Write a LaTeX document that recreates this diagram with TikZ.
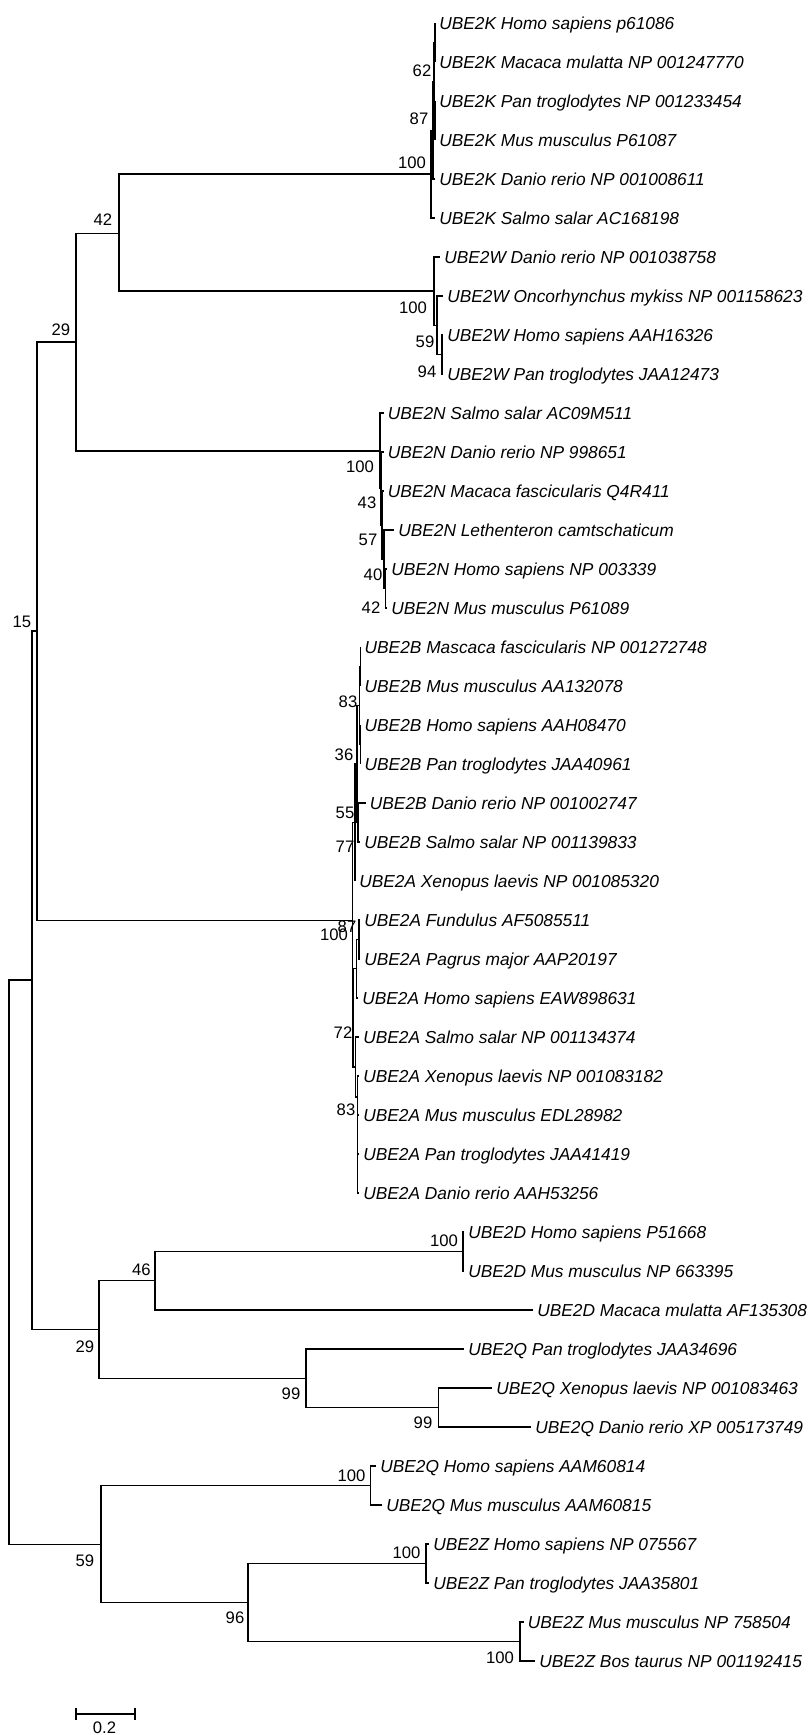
\documentclass[tikz,border=0pt]{standalone}
\usepackage{fontspec}
\setmainfont{Liberation Sans}
\begin{document}
\begin{tikzpicture}[x=0.75pt,y=-0.75pt,
  br/.style={line width=0.85pt},
  leaf/.style={anchor=west, inner xsep=3pt, inner ysep=0pt, text height=9.4pt, text depth=0pt, font=\fontsize{13}{15}\selectfont\itshape},
  bs/.style={inner sep=0pt, font=\fontsize{12.5}{14}\selectfont}]
\fill[white] (0,0) rectangle (807,1735);
\useasboundingbox (0,0) rectangle (807,1735);
% ---------- leaves ----------
\node[leaf] (l1) at (435,23) {UBE2K Homo sapiens p61086};
\node[leaf] (l2) at (435,62) {UBE2K Macaca mulatta NP 001247770};
\node[leaf] (l3) at (435,101) {UBE2K Pan troglodytes NP 001233454};
\node[leaf] (l4) at (435,140) {UBE2K Mus musculus P61087};
\node[leaf] (l5) at (435,179) {UBE2K Danio rerio NP 001008611};
\node[leaf] (l6) at (435,218) {UBE2K Salmo salar AC168198};
\node[leaf] (l7) at (440,257) {UBE2W Danio rerio NP 001038758};
\node[leaf] (l8) at (443,296) {UBE2W Oncorhynchus mykiss NP 001158623};
\node[leaf] (l9) at (443,335) {UBE2W Homo sapiens AAH16326};
\node[leaf] (l10) at (443,374) {UBE2W Pan troglodytes JAA12473};
\node[leaf] (l11) at (383.6,413) {UBE2N Salmo salar AC09M511};
\node[leaf] (l12) at (383.6,452) {UBE2N Danio rerio NP 998651};
\node[leaf] (l13) at (383.6,491) {UBE2N Macaca fascicularis Q4R411};
\node[leaf] (l14) at (394,530) {UBE2N Lethenteron camtschaticum};
\node[leaf] (l15) at (387,569) {UBE2N Homo sapiens NP 003339};
\node[leaf] (l16) at (387,608) {UBE2N Mus musculus P61089};
\node[leaf] (l17) at (360.4,647) {UBE2B Mascaca fascicularis NP 001272748};
\node[leaf] (l18) at (360.4,686) {UBE2B Mus musculus AA132078};
\node[leaf] (l19) at (360.4,725) {UBE2B Homo sapiens AAH08470};
\node[leaf] (l20) at (360.4,764) {UBE2B Pan troglodytes JAA40961};
\node[leaf] (l21) at (365.6,803) {UBE2B Danio rerio NP 001002747};
\node[leaf] (l22) at (360,842) {UBE2B Salmo salar NP 001139833};
\node[leaf] (l23) at (355,881) {UBE2A Xenopus laevis NP 001085320};
\node[leaf] (l24) at (360,920) {UBE2A Fundulus AF5085511};
\node[leaf] (l25) at (360,959) {UBE2A Pagrus major AAP20197};
\node[leaf] (l26) at (358,998) {UBE2A Homo sapiens EAW898631};
\node[leaf] (l27) at (359,1037) {UBE2A Salmo salar NP 001134374};
\node[leaf] (l28) at (359,1076) {UBE2A Xenopus laevis NP 001083182};
\node[leaf] (l29) at (359,1115) {UBE2A Mus musculus EDL28982};
\node[leaf] (l30) at (359,1154) {UBE2A Pan troglodytes JAA41419};
\node[leaf] (l31) at (359,1193) {UBE2A Danio rerio AAH53256};
\node[leaf] (l32) at (464,1232) {UBE2D Homo sapiens P51668};
\node[leaf] (l33) at (464,1271) {UBE2D Mus musculus NP 663395};
\node[leaf] (l34) at (533,1310) {UBE2D Macaca mulatta AF135308};
\node[leaf] (l35) at (464,1349) {UBE2Q Pan troglodytes JAA34696};
\node[leaf] (l36) at (492,1388) {UBE2Q Xenopus laevis NP 001083463};
\node[leaf] (l37) at (531,1427) {UBE2Q Danio rerio XP 005173749};
\node[leaf] (l38) at (376,1466) {UBE2Q Homo sapiens AAM60814};
\node[leaf] (l39) at (382,1505) {UBE2Q Mus musculus AAM60815};
\node[leaf] (l40) at (429,1544) {UBE2Z Homo sapiens NP 075567};
\node[leaf] (l41) at (429,1583) {UBE2Z Pan troglodytes JAA35801};
\node[leaf] (l42) at (523.5,1622) {UBE2Z Mus musculus NP 758504};
\node[leaf] (l43) at (535,1661) {UBE2Z Bos taurus NP 001192415};
% ---------- internal nodes ----------
\coordinate (R) at (9,1262);
\coordinate (A) at (32,980);
\coordinate (B) at (37,631);
\coordinate (D) at (76,342);
\coordinate (F) at (119,233.5);
\coordinate (K) at (431,174);
\coordinate (X87) at (433,130.25);
\coordinate (N62) at (434,81.5);
\coordinate (P1) at (435,42.5);
\coordinate (P2) at (435,120.5);
\coordinate (W) at (434,291);
\coordinate (W2) at (437,325.25);
\coordinate (W3) at (442,354.5);
\coordinate (N) at (380,451);
\coordinate (N2) at (381,488.5);
\coordinate (N3) at (382,525);
\coordinate (N4) at (384,559);
\coordinate (N5) at (385.5,588.5);
\coordinate (E) at (352.5,920.25);
\coordinate (U) at (355,822.5);
\coordinate (B2) at (357,764);
\coordinate (Bt) at (359.5,705.5);
\coordinate (P3) at (360.4,666.5);
\coordinate (P4) at (360.4,744.5);
\coordinate (Bd) at (358,822.5);
\coordinate (L) at (353,1018);
\coordinate (L1) at (356.5,968.75);
\coordinate (FP) at (359,939.5);
\coordinate (L2) at (355.5,1067);
\coordinate (L3) at (357.5,1097);
\coordinate (C) at (99,1329.5);
\coordinate (G) at (155,1280.75);
\coordinate (D1) at (463,1251.5);
\coordinate (Q) at (306,1378.25);
\coordinate (Q2) at (438.5,1407.5);
\coordinate (Z) at (101,1544.5);
\coordinate (QH) at (370.6,1485.5);
\coordinate (Z2) at (248,1602.5);
\coordinate (ZH) at (426,1563.5);
\coordinate (ZM) at (520,1641.5);
% ---------- branches ----------
\begin{scope}[br]
\draw (R) |- (A); \draw (R) |- (Z);
\draw (A) |- (B); \draw (A) |- (C);
\draw (B) |- (D); \draw (B) |- (E);
\draw (D) |- (F); \draw (D) |- (N);
\draw (F) |- (K); \draw (F) |- (W);
\draw (K) |- (X87); \draw (K) |- (l6.west);
\draw (X87) |- (N62); \draw (X87) |- (l5.west);
\draw (N62) |- (P1); \draw (N62) |- (P2);
\draw (P1) |- (l1.west); \draw (P1) |- (l2.west);
\draw (P2) |- (l3.west); \draw (P2) |- (l4.west);
\draw (W) |- (l7.west); \draw (W) |- (W2);
\draw (W2) |- (l8.west); \draw (W2) |- (W3);
\draw (W3) |- (l9.west); \draw (W3) |- (l10.west);
\draw (N) |- (l11.west); \draw (N) |- (N2);
\draw (N2) |- (l12.west); \draw (N2) |- (N3);
\draw (N3) |- (l13.west); \draw (N3) |- (N4);
\draw (N4) |- (l14.west); \draw (N4) |- (N5);
\draw (N5) |- (l15.west); \draw (N5) |- (l16.west);
\draw (E) |- (U); \draw (E) |- (L);
\draw (U) |- (B2); \draw (U) |- (l23.west);
\draw (B2) |- (Bt); \draw (B2) |- (Bd);
\draw (Bt) |- (P3); \draw (Bt) |- (P4);
\draw (P3) |- (l17.west); \draw (P3) |- (l18.west);
\draw (P4) |- (l19.west); \draw (P4) |- (l20.west);
\draw (Bd) |- (l21.west); \draw (Bd) |- (l22.west);
\draw (L) |- (L1); \draw (L) |- (L2);
\draw (L1) |- (FP); \draw (L1) |- (l26.west);
\draw (FP) |- (l24.west); \draw (FP) |- (l25.west);
\draw (L2) |- (l27.west); \draw (L2) |- (L3);
\draw (L3) |- (l28.west); \draw (L3) |- (l29.west);
\draw (L3) |- (l30.west); \draw (L3) |- (l31.west);
\draw (C) |- (G); \draw (C) |- (Q);
\draw (G) |- (D1); \draw (G) |- (l34.west);
\draw (D1) |- (l32.west); \draw (D1) |- (l33.west);
\draw (Q) |- (l35.west); \draw (Q) |- (Q2);
\draw (Q2) |- (l36.west); \draw (Q2) |- (l37.west);
\draw (Z) |- (QH); \draw (Z) |- (Z2);
\draw (QH) |- (l38.west); \draw (QH) |- (l39.west);
\draw (Z2) |- (ZH); \draw (Z2) |- (ZM);
\draw (ZH) |- (l40.west); \draw (ZH) |- (l41.west);
\draw (ZM) |- (l42.west); \draw (ZM) |- (l43.west);
\end{scope}
% ---------- bootstrap values ----------
\node[bs] (bF) at (103,220) {42};
\node[bs] (bD) at (61,330) {29};
\node[bs] (bB) at (22,622) {15};
\node[bs] (bK) at (412,163) {100};
\node[bs] (bX87) at (419,119) {87};
\node[bs] (bN62) at (422,71) {62};
\node[bs] (bW) at (413,308) {100};
\node[bs] (bW2) at (425,342) {59};
\node[bs] (bW3) at (427,372) {94};
\node[bs] (bN) at (360,467) {100};
\node[bs] (bN2) at (367,503) {43};
\node[bs] (bN3) at (368,540) {57};
\node[bs] (bN4) at (373,575) {40};
\node[bs] (bN5) at (371,608) {42};
\node[bs] (bBt) at (348,702) {83};
\node[bs] (bB2) at (344,755) {36};
\node[bs] (bU) at (345,813) {55};
\node[bs] (bBd) at (345,847) {77};
\node[bs] (bE) at (334,935) {100};
\node[bs] (bFP) at (347,927) {87};
\node[bs] (bL) at (343,1033) {72};
\node[bs] (bL3) at (346,1110) {83};
\node[bs] (bD1) at (444,1241) {100};
\node[bs] (bG) at (141.5,1270) {46};
\node[bs] (bC) at (85,1347) {29};
\node[bs] (bQ) at (291,1394) {99};
\node[bs] (bQ2) at (423,1423) {99};
\node[bs] (bQH) at (351.5,1476) {100};
\node[bs] (bZ) at (85,1561) {59};
\node[bs] (bZH) at (406.6,1553) {100};
\node[bs] (bZ2) at (235,1618) {96};
\node[bs] (bZM) at (500,1658) {100};
% ---------- scale bar ----------
\coordinate (sb1) at (76,1714);
\coordinate (sb2) at (135,1714);
\draw[br] (sb1) -- (sb2);
\draw[br] (sb1) ++(0,-6) -- ++(0,12);
\draw[br] (sb2) ++(0,-6) -- ++(0,12);
\node[bs] (sbl) at (104.5,1728) {0.2};
\end{tikzpicture}
\end{document}
